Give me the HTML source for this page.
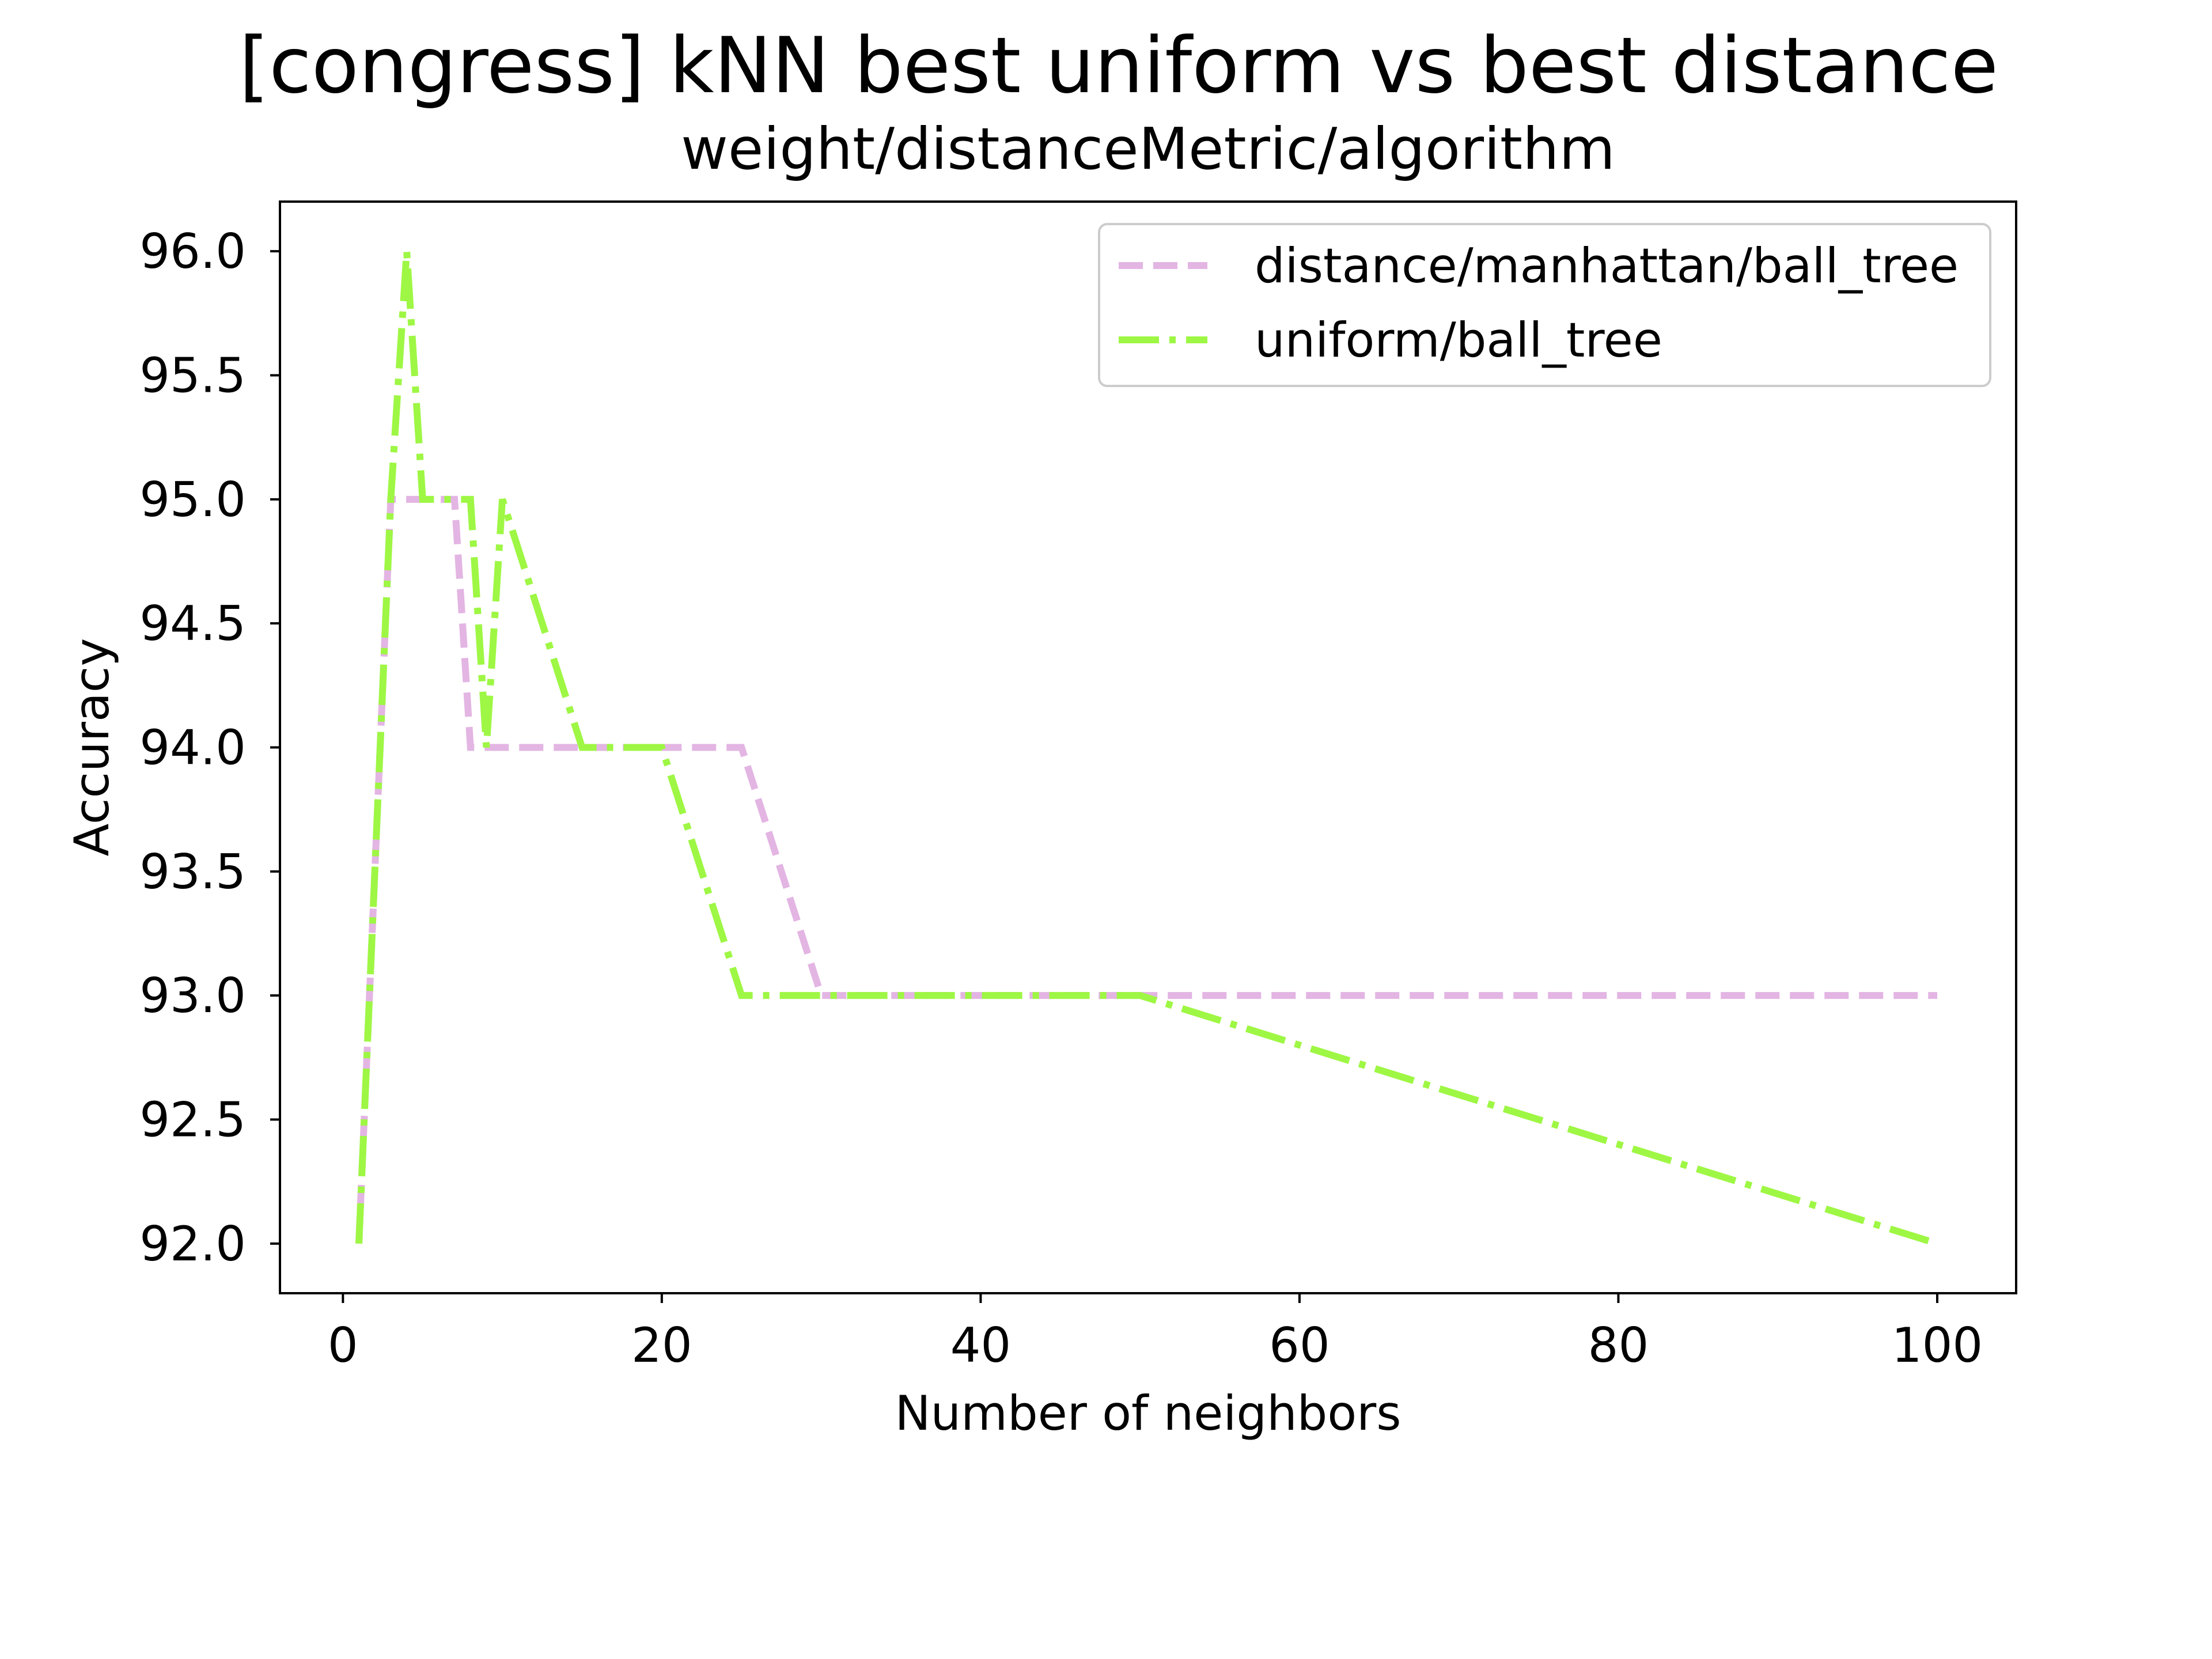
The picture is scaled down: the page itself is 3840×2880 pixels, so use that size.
<!DOCTYPE html>
<html><head><meta charset="utf-8"><style>
body{margin:0;background:#fff}
svg{display:block;font-family:"DejaVu Sans","Liberation Sans",sans-serif}
</style></head><body>
<svg id="chart" width="3840" height="2880" xmlns="http://www.w3.org/2000/svg">
<rect width="3840" height="2880" fill="#fff"/>
<text x="1942" y="160" font-size="134" text-anchor="middle">[congress] kNN best uniform vs best distance</text>
<text x="1993" y="293" font-size="100" text-anchor="middle">weight/distanceMetric/algorithm</text>
<g id="plot"></g>
<text x="1993" y="2482" font-size="83" text-anchor="middle">Number of neighbors</text>
<text transform="translate(188,1297) rotate(-90)" font-size="83" text-anchor="middle">Accuracy</text>
<g>
<rect x="1908" y="389" width="1547" height="281" rx="14" fill="#fff" fill-opacity="0.8" stroke="#ccc" stroke-width="4"/>
<line x1="1942" y1="461" x2="2096" y2="461" stroke="#e3b5e3" stroke-width="12" stroke-dasharray="42 18"/>
<text x="2178" y="490" font-size="83">distance/manhattan/ball_tree</text>
<line x1="1942" y1="590" x2="2096" y2="590" stroke="#9ef744" stroke-width="12" stroke-dasharray="70 18 11 18"/>
<text x="2178" y="619" font-size="83">uniform/ball_tree</text>
</g>
</svg>
<script>
const kValues=[1,3,4,5,6,7,8,9,10,15,20,25,30,35,40,45,50,100];
const distanceAcc=[92,95,95,95,95,95,94,94,94,94,94,94,93,93,93,93,93,93];
const uniformAcc=[92,95,96,95,95,95,95,94,95,94,94,93,93,93,93,93,93,92];
const xTicks=[0,20,40,60,80,100];
const yTicks=[92.0,92.5,93.0,93.5,94.0,94.5,95.0,95.5,96.0];
const L=486,R=3500,T=350,B=2245;
const xMin=-3.95,xMax=104.95,yMin=91.8,yMax=96.2;
const sx=v=>L+(v-xMin)/(xMax-xMin)*(R-L);
const sy=v=>B-(v-yMin)/(yMax-yMin)*(B-T);
const NS="http://www.w3.org/2000/svg";
const g=document.getElementById('plot');
function mk(t,a){const e=document.createElementNS(NS,t);for(const k in a)e.setAttribute(k,a[k]);g.appendChild(e);return e;}
function series(ys,color,dash,name){
  const p=mk('polyline',{points:kValues.map((k,i)=>sx(k)+','+sy(ys[i])).join(' '),fill:'none',stroke:color,'stroke-width':12,'stroke-dasharray':dash});
  
  
}
series(distanceAcc,'#e3b5e3','42 18','line-distance-manhattan');
series(uniformAcc,'#9ef744','70 18 11 18','line-uniform');
const ax=mk('rect',{x:L,y:T,width:R-L,height:B-T,fill:'none',stroke:'#000','stroke-width':4});


xTicks.forEach(v=>{
  const l=mk('line',{x1:sx(v),x2:sx(v),y1:B,y2:B+17,stroke:'#000','stroke-width':4});
  
  
  const t=mk('text',{x:sx(v),y:B+119,'font-size':83,'text-anchor':'middle'});
  t.textContent=v;
  
  
});
yTicks.forEach(v=>{
  const l=mk('line',{x1:L-17,x2:L,y1:sy(v),y2:sy(v),stroke:'#000','stroke-width':4});
  
  
  const t=mk('text',{x:L-59,y:sy(v)+29,'font-size':83,'text-anchor':'end'});
  t.textContent=v.toFixed(1);
  
  
});
</script>
</body></html>
